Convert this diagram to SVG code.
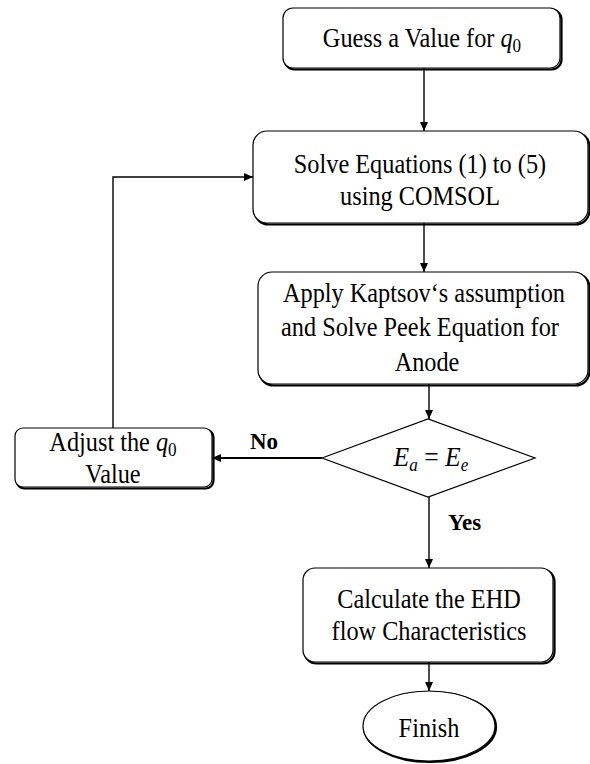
<svg xmlns="http://www.w3.org/2000/svg" width="590" height="764" viewBox="0 0 590 764">
<style>
.box{fill:#fff;stroke:#000;stroke-width:1.2}
.shadow{fill:none;stroke:#000;stroke-width:2.2}
.t{font-family:"Liberation Serif","Times New Roman",serif;font-size:27px;fill:#000;text-anchor:middle}
.m{font-style:italic}
.lbl{font-family:"Liberation Serif","Times New Roman",serif;font-size:23px;font-weight:bold;fill:#000}
.c{fill:none;stroke:#000;stroke-width:1.4}
</style>
<defs>
<marker id="ah" markerUnits="userSpaceOnUse" markerWidth="10" markerHeight="10" refX="9" refY="5" orient="auto">
<path d="M0,1 L9,5 L0,9 Z" fill="#000"/>
</marker>
</defs>
<rect width="590" height="764" fill="#fff"/>

<g id="connectors">
<line class="c" x1="424" y1="68" x2="424" y2="131" marker-end="url(#ah)"/>
<line class="c" x1="424" y1="223" x2="424" y2="272" marker-end="url(#ah)"/>
<line class="c" x1="429" y1="384" x2="429" y2="419" marker-end="url(#ah)"/>
<line class="c" x1="322" y1="458" x2="212" y2="458" marker-end="url(#ah)" style="stroke-width:2"/>
<polyline class="c" points="113,428 113,177 253,177" marker-end="url(#ah)"/>
<line class="c" x1="429" y1="497" x2="429" y2="568" marker-end="url(#ah)"/>
<line class="c" x1="429" y1="662" x2="429" y2="691" marker-end="url(#ah)"/>
<text class="lbl" x="250" y="449">No</text>
<text class="lbl" x="448" y="530">Yes</text>
</g>

<g id="guess">
<rect class="shadow" x="284.5" y="9.5" width="277" height="60" rx="10"/>
<rect class="box" x="283" y="8" width="277" height="60" rx="10"/>
<text class="t" transform="translate(422,47) scale(0.9,1)">Guess a Value for <tspan class="m">q</tspan><tspan font-size="19" dy="5">0</tspan></text>
</g>

<g id="solve">
<rect class="shadow" x="254.5" y="132.5" width="335" height="92" rx="14"/>
<rect class="box" x="253" y="131" width="335" height="92" rx="14"/>
<text class="t" transform="translate(420,173) scale(0.9,1)">Solve Equations (1) to (5)</text>
<text class="t" transform="translate(420,205) scale(0.9,1)">using COMSOL</text>
</g>

<g id="apply">
<rect class="shadow" x="259.5" y="273.5" width="330" height="112" rx="14"/>
<rect class="box" x="258" y="272" width="330" height="112" rx="14"/>
<text class="t" transform="translate(424,302) scale(0.9,1)">Apply Kaptsov‘s assumption</text>
<text class="t" transform="translate(420,336) scale(0.9,1)">and Solve Peek Equation for</text>
<text class="t" transform="translate(427,371) scale(0.9,1)">Anode</text>
</g>

<g id="decision">
<polygon class="box" points="322,458 428,419 535,458 428,497"/>
<text class="t" transform="translate(431,466) scale(0.95,1)" font-size="26"><tspan class="m">E</tspan><tspan class="m" font-size="18" dy="5">a</tspan><tspan dy="-5"> = </tspan><tspan class="m">E</tspan><tspan class="m" font-size="18" dy="5">e</tspan></text>
</g>

<g id="adjust">
<rect class="shadow" x="16.5" y="429.5" width="197" height="59" rx="8"/>
<rect class="box" x="15" y="428" width="197" height="59" rx="8"/>
<text class="t" transform="translate(113,451) scale(0.9,1)">Adjust the <tspan class="m">q</tspan><tspan font-size="19" dy="5">0</tspan></text>
<text class="t" transform="translate(113,483) scale(0.9,1)">Value</text>
</g>

<g id="calculate">
<rect class="shadow" x="304.5" y="569.5" width="250" height="94" rx="12"/>
<rect class="box" x="303" y="568" width="250" height="94" rx="12"/>
<text class="t" transform="translate(429,608) scale(0.9,1)">Calculate the EHD</text>
<text class="t" transform="translate(429,640) scale(0.9,1)">flow Characteristics</text>
</g>

<g id="finish">
<ellipse class="shadow" cx="430" cy="727" rx="66" ry="35"/>
<ellipse class="box" cx="429" cy="726" rx="66" ry="35"/>
<text class="t" transform="translate(429,737) scale(0.9,1)">Finish</text>
</g>
</svg>
